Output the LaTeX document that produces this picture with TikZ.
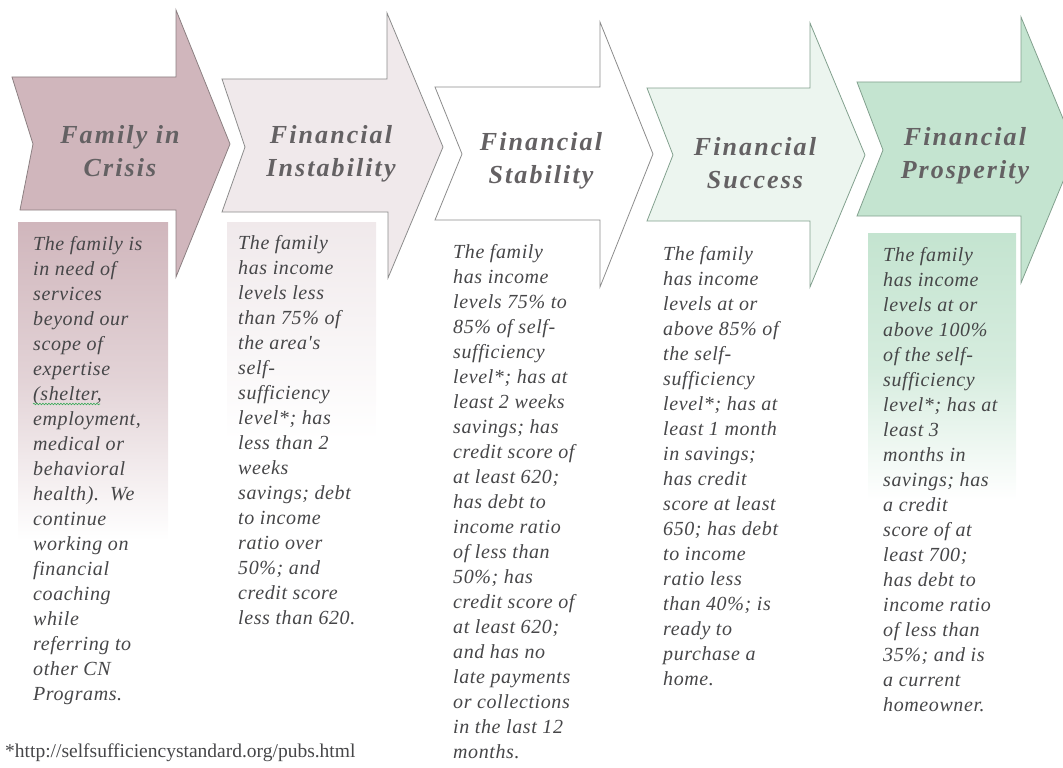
\documentclass[tikz,border=0pt]{standalone}
\usepackage{fontspec}
\usetikzlibrary{decorations.pathmorphing}
\setmainfont{Liberation Serif}
\newfontfamily\headfont[LetterSpace=8]{Liberation Serif}
\newfontfamily\bodyfont[LetterSpace=3]{Liberation Serif}
\definecolor{crisis}{RGB}{208,182,188}
\definecolor{instab}{RGB}{240,233,235}
\definecolor{success}{RGB}{236,245,239}
\definecolor{prosper}{RGB}{196,228,208}
\definecolor{pinkedge}{RGB}{140,128,130}
\definecolor{greyedge}{RGB}{140,140,140}
\definecolor{greenedge}{RGB}{130,160,142}
\definecolor{headcol}{RGB}{100,97,99}
\definecolor{bodycol}{RGB}{70,70,72}
\definecolor{spell}{RGB}{60,170,90}
\tikzset{
  chev/.style={draw=#1, line width=0.8pt, line join=miter},
  headtext/.style={font=\headfont\bfseries\itshape\fontsize{26}{33}\selectfont, text=headcol, align=center, inner sep=0pt},
  bodytext/.style={font=\bodyfont\itshape\fontsize{20}{25}\selectfont, text=bodycol, align=left, anchor=north west, inner sep=0pt},
  squiggle/.style={draw=spell, line width=0.6pt, decorate, decoration={snake, amplitude=0.8pt, segment length=3pt}},
}
\begin{document}
\begin{tikzpicture}[x=1pt,y=-1pt]
\useasboundingbox (0,0) rectangle (1063,768);
\begin{scope}
\clip (0,0) rectangle (1063,768);
% shaded boxes under text
\shade[top color=crisis, bottom color=white, middle color=crisis!60!white] (18,222) rectangle (168,540);
\shade[top color=instab, bottom color=white] (227,222) rectangle (376,440);
\shade[top color=prosper, bottom color=white, middle color=prosper!70!white] (868,233) rectangle (1016,500);
% arrows
\draw[chev=pinkedge, fill=crisis] (12,77) -- (176,77) -- (176,10) -- (230,144) -- (176,277) -- (176,210) -- (20,210) -- (33,144) -- cycle;
\draw[chev=greyedge, fill=instab] (222,79) -- (387,79) -- (387,13) -- (443,147) -- (388,278) -- (388,212) -- (222,212) -- (245,147) -- cycle;
\draw[chev=greyedge, fill=white] (435,87) -- (600,87) -- (600,22) -- (653,154) -- (600,287) -- (600,220) -- (435,220) -- (462,154) -- cycle;
\draw[chev=greenedge, fill=success] (647,88) -- (810,88) -- (810,23) -- (865,155) -- (810,287) -- (810,221) -- (647,221) -- (673,155) -- cycle;
\draw[chev=greenedge, fill=prosper] (857,82) -- (1021,82) -- (1021,17) -- (1076,150) -- (1021,283) -- (1021,216) -- (857,216) -- (883,150) -- cycle;
\end{scope}
% headers
\node[headtext] (h1) at (120,151) {Family in\\Crisis};
\node[headtext] (h2) at (331,154) {Financial\\Instability};
\node[headtext] (h3) at (541,161) {Financial\\Stability};
\node[headtext] (h4) at (755,163) {Financial\\Success};
\node[headtext] (h5) at (965,156) {Financial\\Prosperity};
% body texts
\node[bodytext] (b1) at (33,236) {The family is\\in need of\\services\\beyond our\\scope of\\expertise\\(shelter,\\employment,\\medical or\\behavioral\\health).\ \ We\\continue\\working on\\financial\\coaching\\while\\referring to\\other CN\\Programs.};
\coordinate (sqa) at (33,404);
\coordinate (sqb) at (100,404);
\path[squiggle] (sqa) -- (sqb);
\node[bodytext] (b2) at (238,235) {The family\\has income\\levels less\\than 75\% of\\the area's\\self-\\sufficiency\\level*; has\\less than 2\\weeks\\savings; debt\\to income\\ratio over\\50\%; and\\credit score\\less than 620.};
\node[bodytext] (b3) at (453,244) {The family\\has income\\levels 75\% to\\85\% of self-\\sufficiency\\level*; has at\\least 2 weeks\\savings; has\\credit score of\\at least 620;\\has debt to\\income ratio\\of less than\\50\%; has\\credit score of\\at least 620;\\and has no\\late payments\\or collections\\in the last 12\\months.};
\node[bodytext] (b4) at (663,246) {The family\\has income\\levels at or\\above 85\% of\\the self-\\sufficiency\\level*; has at\\least 1 month\\in savings;\\has credit\\score at least\\650; has debt\\to income\\ratio less\\than 40\%; is\\ready to\\purchase a\\home.};
\node[bodytext] (b5) at (883,247) {The family\\has income\\levels at or\\above 100\%\\of the self-\\sufficiency\\level*; has at\\least 3\\months in\\savings; has\\a credit\\score of at\\least 700;\\has debt to\\income ratio\\of less than\\35\%; and is\\a current\\homeowner.};
% footnote
\node[font=\fontsize{19.5}{22}\selectfont, text=bodycol, anchor=west, inner sep=0pt] (fn) at (5,753) {*http://selfsufficiencystandard.org/pubs.html};
\end{tikzpicture}
\end{document}
